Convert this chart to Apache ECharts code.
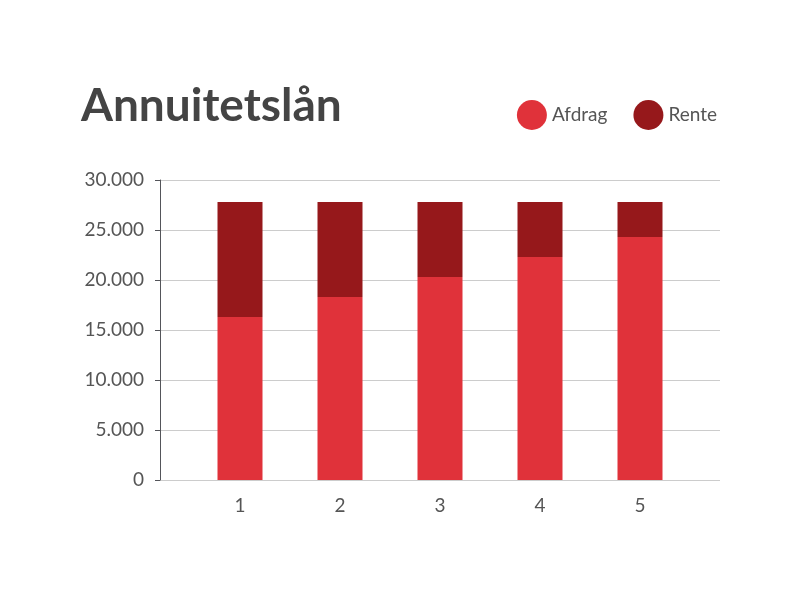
<!DOCTYPE html>
<html><head><meta charset="utf-8">
<script src="https://cdn.jsdelivr.net/npm/echarts@6/dist/echarts.min.js"></script>
<style>html,body{margin:0;background:#fff}#c{width:800px;height:600px}</style>
</head><body><div id="c"></div>
<script>
const categories = ['1','2','3','4','5'];
const afdrag = [16300, 18300, 20300, 22300, 24300];
const rente = [11500, 9500, 7500, 5500, 3500];
const chart = echarts.init(document.getElementById('c'));
const fmt = v => v === 0 ? '0' : v.toLocaleString('de-DE');
const lbl = { fontFamily: 'Lato', fontSize: 19, color: '#555' };
chart.setOption({
  animation: false,
  title: { text: 'Annuitetslån', left: 76, top: 78, textStyle: { fontFamily: 'Lato', fontWeight: 'bold', fontSize: 46, color: '#444' } },
  legend: { right: 78, top: 95, itemWidth: 30, itemHeight: 30, itemGap: 26, icon: 'circle',
    textStyle: lbl, data: ['Afdrag', 'Rente'] },
  grid: [
    { left: 160, right: 80, top: 180, bottom: 120 },
    { left: 190, right: 110, top: 180, bottom: 120 }
  ],
  xAxis: [
    { gridIndex: 0, type: 'value', min: 0, max: 1, show: false },
    { gridIndex: 1, type: 'category', data: categories, axisTick: { show: false },
      axisLine: { show: false },
      axisLabel: Object.assign({ margin: 16 }, lbl) }
  ],
  yAxis: [
    { gridIndex: 0, type: 'value', min: 0, max: 30000, interval: 5000,
      axisLabel: Object.assign({ formatter: fmt, margin: 16 }, lbl),
      splitLine: { lineStyle: { color: '#ccc' } } },
    { gridIndex: 1, type: 'value', min: 0, max: 30000, interval: 5000, show: false, splitLine: { show: false } }
  ],
  series: [
    { name: 'Afdrag', type: 'bar', stack: 's', xAxisIndex: 1, yAxisIndex: 1, data: afdrag, barWidth: '45%', itemStyle: { color: '#e0323a' } },
    { name: 'Rente', type: 'bar', stack: 's', xAxisIndex: 1, yAxisIndex: 1, data: rente, itemStyle: { color: '#96181b' } }
  ]
});
</script></body></html>
